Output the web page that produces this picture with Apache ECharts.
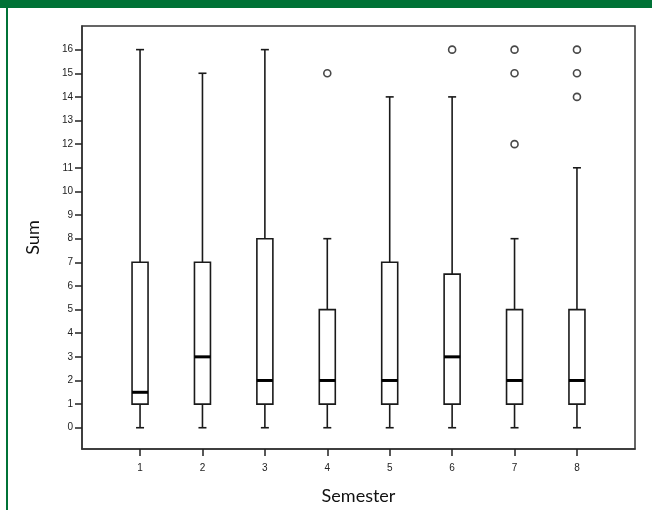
<!DOCTYPE html>
<html>
<head>
<meta charset="utf-8">
<script src="https://cdn.jsdelivr.net/npm/echarts@6/dist/echarts.min.js"></script>
<style>
html, body { margin: 0; padding: 0; background: #fff; }
#chart { width: 652px; height: 510px; }
</style>
</head>
<body>
<div id="chart"></div>
<script>
// semester numbers and the five-number summary of each box
var semesters = [1, 2, 3, 4, 5, 6, 7, 8];
var whiskerLow = [0, 0, 0, 0, 0, 0, 0, 0];
var q1 = [1, 1, 1, 1, 1, 1, 1, 1];
var median = [1.5, 3, 2, 2, 2, 3, 2, 2];
var q3 = [7, 7, 8, 5, 7, 6.5, 5, 5];
var whiskerHigh = [16, 15, 16, 8, 14, 14, 8, 11];
// outliers as [semester, value]
var outliers = [[4, 15], [6, 16], [7, 12], [7, 15], [7, 16], [8, 14], [8, 15], [8, 16]];
var yTicks = [0, 1, 2, 3, 4, 5, 6, 7, 8, 9, 10, 11, 12, 13, 14, 15, 16];

var boxes = semesters.map(function (s, i) {
  return [s, whiskerLow[i], q1[i], median[i], q3[i], whiskerHigh[i]];
});

var lineCol = '#1a1a1a';

function renderBox(params, api) {
  var x = api.value(0);
  var pLow = api.coord([x, api.value(1)]);
  var pQ1 = api.coord([x, api.value(2)]);
  var pMed = api.coord([x, api.value(3)]);
  var pQ3 = api.coord([x, api.value(4)]);
  var pHigh = api.coord([x, api.value(5)]);
  var cx = pLow[0];
  var bw = 16, cw = 8;
  var st = { stroke: lineCol, lineWidth: 1.6, fill: null };
  return {
    type: 'group',
    children: [
      { type: 'line', shape: { x1: cx, y1: pLow[1], x2: cx, y2: pQ1[1] }, style: st },
      { type: 'line', shape: { x1: cx, y1: pQ3[1], x2: cx, y2: pHigh[1] }, style: st },
      { type: 'line', shape: { x1: cx - cw / 2, y1: pLow[1], x2: cx + cw / 2, y2: pLow[1] }, style: st },
      { type: 'line', shape: { x1: cx - cw / 2, y1: pHigh[1], x2: cx + cw / 2, y2: pHigh[1] }, style: st },
      { type: 'rect', shape: { x: cx - bw / 2, y: pQ3[1], width: bw, height: pQ1[1] - pQ3[1] },
        style: { stroke: lineCol, lineWidth: 1.6, fill: '#fff' } },
      { type: 'line', shape: { x1: cx - bw / 2, y1: pMed[1], x2: cx + bw / 2, y2: pMed[1] },
        style: { stroke: '#000', lineWidth: 3 } }
    ]
  };
}

var chart = echarts.init(document.getElementById('chart'));
chart.setOption({
  animation: false,
  backgroundColor: '#fff',
  graphic: [
    { type: 'rect', shape: { x: 0, y: 0, width: 652, height: 8 }, style: { fill: '#007236' } },
    { type: 'rect', shape: { x: 6, y: 0, width: 2, height: 510 }, style: { fill: '#007236' } }
  ],
  grid: {
    left: 82, right: 17, top: 26, bottom: 56,
    show: true, borderColor: '#333', borderWidth: 1.5, backgroundColor: '#fff'
  },
  xAxis: {
    type: 'value',
    min: 0.07, max: 8.93,
    name: 'Semester',
    nameLocation: 'middle',
    nameGap: 38,
    nameTextStyle: { fontFamily: 'Lato', fontSize: 18, color: '#111' },
    splitLine: { show: false },
    axisLine: { show: true, onZero: false, lineStyle: { color: '#333', width: 1.5 } },
    axisTick: { show: true, length: 7, customValues: semesters, lineStyle: { color: '#222', width: 1.5 } },
    axisLabel: { customValues: semesters, fontFamily: 'Liberation Sans', fontSize: 10, color: '#222', margin: 14 }
  },
  yAxis: {
    type: 'value',
    min: -0.9, max: 17,
    name: 'Sum',
    nameLocation: 'middle',
    nameGap: 40,
    nameTextStyle: { fontFamily: 'Lato', fontSize: 18, color: '#111' },
    splitLine: { show: false },
    axisLine: { show: true, onZero: false, lineStyle: { color: '#333', width: 1.5 } },
    axisTick: { show: true, length: 7, customValues: yTicks, lineStyle: { color: '#222', width: 1.5 } },
    axisLabel: { customValues: yTicks, fontFamily: 'Liberation Sans', fontSize: 10, color: '#222', margin: 9 }
  },
  series: [
    {
      type: 'custom',
      renderItem: renderBox,
      encode: { x: 0, y: [1, 2, 3, 4, 5] },
      data: boxes
    },
    {
      type: 'scatter',
      symbol: 'circle',
      symbolSize: 7,
      itemStyle: { color: '#fff', borderColor: lineCol, borderWidth: 1.6 },
      data: outliers
    }
  ]
});
</script>
</body>
</html>
